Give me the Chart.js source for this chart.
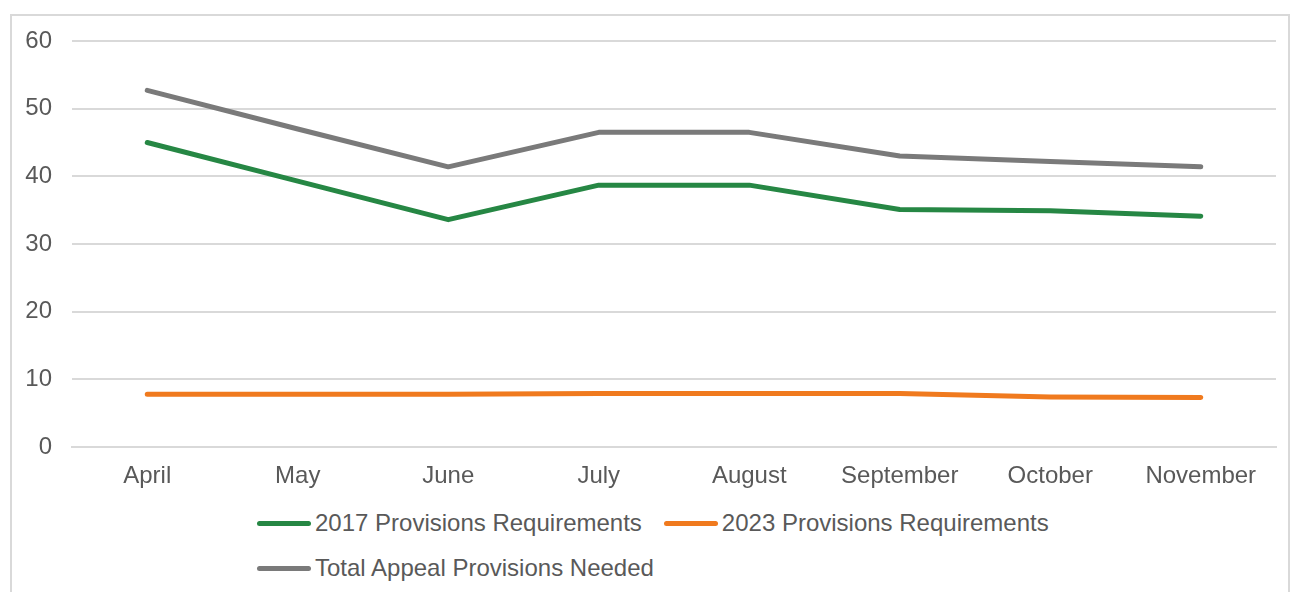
<!DOCTYPE html>
<html>
<head>
<meta charset="utf-8">
<script src="https://cdn.jsdelivr.net/npm/chart.js@4/dist/chart.umd.min.js"></script>
<style>
	body { margin: 0; background: #fff; font-family: "Liberation Sans", Arial, sans-serif; }
	#frame { position: absolute; left: 10px; top: 14px; width: 1280px; height: 600px; border: 2px solid #d9d9d9; box-sizing: border-box; }
	#wrap { position: absolute; left: 0; top: 0; width: 1292px; height: 500px; }
	#legend { position: absolute; left: 257px; top: 508px; width: 820px; display: flex; flex-wrap: wrap; row-gap: 15px; }
	.item { display: flex; align-items: center; height: 30px; margin-right: 22px; font-size: 24px; color: #595959; }
	.swatch { width: 54px; height: 5px; border-radius: 3px; margin-right: 4px; }
</style>
</head>
<body>
<div id="frame"></div>
<div id="wrap"><canvas id="chart-provisions"></canvas></div>
<div id="legend"></div>
<script>
const months = ['April', 'May', 'June', 'July', 'August', 'September', 'October', 'November'];
const req2017 = [45.0, 39.3, 33.6, 38.7, 38.7, 35.1, 34.9, 34.1];
const req2023 = [7.8, 7.8, 7.8, 7.9, 7.9, 7.9, 7.4, 7.3];
const totalNeeded = [52.7, 47.0, 41.4, 46.5, 46.5, 43.0, 42.2, 41.4];
const yTicks = [0, 10, 20, 30, 40, 50, 60];

function renderProvisionsGraph() {
	const ctx = document.getElementById('chart-provisions').getContext('2d');
	if (!ctx) {
		return;
	}

	const line = {
		borderWidth: 5,
		pointRadius: 0,
		tension: 0,
		fill: false,
		borderCapStyle: 'round',
		borderJoinStyle: 'round',
	};

	const chart = new Chart(ctx, {
		'type': 'line',
		'data': {
			'labels': months,
			'datasets': [
				Object.assign({ label: '2017 Provisions Requirements', data: req2017, borderColor: '#268744' }, line),
				Object.assign({ label: '2023 Provisions Requirements', data: req2023, borderColor: '#f07a1e' }, line),
				Object.assign({ label: 'Total Appeal Provisions Needed', data: totalNeeded, borderColor: '#7a7a7a' }, line),
			],
		},
		options: {
			responsive: true,
			maintainAspectRatio: false,
			animation: false,
			layout: { padding: { top: 41, right: 16, left: 0, bottom: 0 } },
			plugins: {
				legend: { display: false },
				tooltip: { enabled: false },
			},
			scales: {
				x: {
					offset: true,
					grid: { display: false },
					border: { display: true, color: '#d9d9d9', width: 2 },
					ticks: { color: '#595959', font: { size: 24, family: '"Liberation Sans", Arial' }, padding: 7, maxRotation: 0 },
					afterFit: (scale) => { scale.height = 53; },
				},
				y: {
					min: 0,
					max: 60,
					afterBuildTicks: (scale) => { scale.ticks = yTicks.map(v => ({ value: v })); },
					grid: { color: '#d9d9d9', lineWidth: 2, drawTicks: false },
					border: { display: false },
					ticks: { color: '#595959', font: { size: 24, family: '"Liberation Sans", Arial' }, padding: 20 },
					afterFit: (scale) => { scale.width = 72; },
				},
			},
		},
	});

	// 凡例は HTML で描く (2段目を左寄せにするため)
	const legend = document.getElementById('legend');
	for (const ds of chart.data.datasets) {
		const item = document.createElement('div');
		item.className = 'item';
		const sw = document.createElement('span');
		sw.className = 'swatch';
		sw.style.background = ds.borderColor;
		item.appendChild(sw);
		item.appendChild(document.createTextNode(ds.label));
		legend.appendChild(item);
	}
}

renderProvisionsGraph();
</script>
</body>
</html>
